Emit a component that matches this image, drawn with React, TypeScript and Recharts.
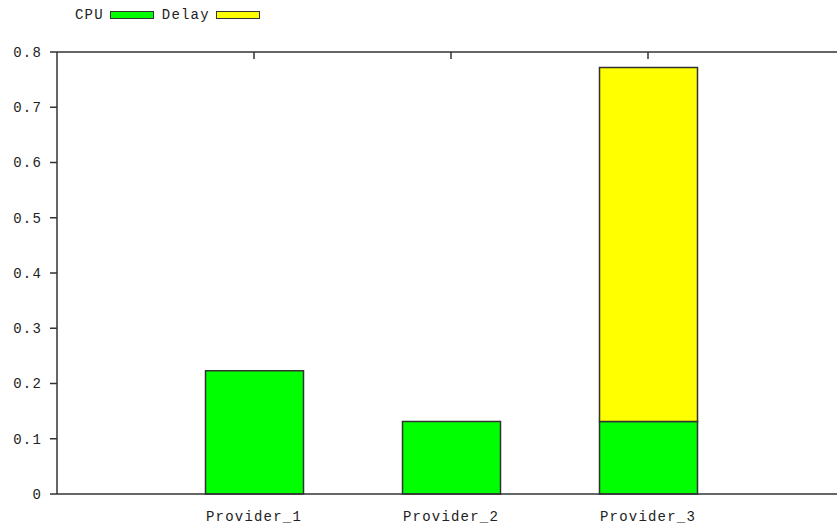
import { BarChart, Bar, XAxis, YAxis } from "recharts";

const providers = ["Provider_1", "Provider_2", "Provider_3"];
const positions = [1, 2, 3];
const cpuValues = [0.223, 0.131, 0.131];
const delayValues = [0, 0, 0.641];
const yTicks = [0, 0.1, 0.2, 0.3, 0.4, 0.5, 0.6, 0.7, 0.8];

const seriesNames = ["CPU", "Delay"];
const seriesColors = ["#00ff00", "#ffff00"];

const FONT = "'Liberation Mono', 'DejaVu Sans Mono', monospace";

const data = providers.map((name, i) => ({
  name,
  pos: positions[i],
  cpu: cpuValues[i],
  delay: delayValues[i]
}));

const tickText = { fill: "#222", fontSize: 14, fontFamily: FONT, letterSpacing: 1.2 };

export default function App() {
  return (
    <div style={{ position: "absolute", left: 0, top: 0, width: 837, height: 527, overflow: "hidden", background: "#fff" }}>
      {/* legend */}
      <div
        style={{
          position: "absolute",
          left: 75,
          top: 7,
          display: "flex",
          alignItems: "center",
          fontFamily: FONT,
          fontSize: 14,
          letterSpacing: 1.2,
          color: "#222"
        }}
      >
        {seriesNames.map((s, i) => (
          <span key={s} style={{ display: "flex", alignItems: "center", marginRight: 8 }}>
            <span>{s}</span>
            <span
              style={{
                display: "inline-block",
                width: 42,
                height: 6,
                marginLeft: 6,
                background: seriesColors[i],
                border: "1px solid #333"
              }}
            />
          </span>
        ))}
      </div>
      <BarChart
        width={860}
        height={527}
        data={data}
        margin={{ top: 52, right: 15, bottom: 0, left: 7 }}
      >
        <XAxis
          xAxisId="top"
          orientation="top"
          type="number"
          dataKey="pos"
          domain={[0, 4]}
          ticks={positions}
          height={30}
          mirror
          tickSize={7}
          tick={() => <g />}
          axisLine={{ stroke: "#333", strokeWidth: 1.5 }}
          tickLine={{ stroke: "#333", strokeWidth: 1.5 }}
        />
        <XAxis
          type="number"
          dataKey="pos"
          domain={[0, 4]}
          ticks={positions}
          height={33}
          tickFormatter={(v: number) => providers[positions.indexOf(v)] ?? ""}
          tickSize={10}
          tickMargin={7}
          tickLine={false}
          tick={tickText}
          axisLine={{ stroke: "#333", strokeWidth: 1.5 }}
        />
        <YAxis
          domain={[0, 0.8]}
          ticks={yTicks}
          width={50}
          tickSize={7}
          tickMargin={8}
          tick={tickText}
          axisLine={{ stroke: "#333", strokeWidth: 1.5 }}
          tickLine={{ stroke: "#333", strokeWidth: 1.5 }}
        />
        <Bar dataKey="cpu" stackId="a" barSize={98} fill={seriesColors[0]} stroke="#333" strokeWidth={1.5} isAnimationActive={false} />
        <Bar dataKey="delay" stackId="a" barSize={98} fill={seriesColors[1]} stroke="#333" strokeWidth={1.5} isAnimationActive={false} />
      </BarChart>
    </div>
  );
}
